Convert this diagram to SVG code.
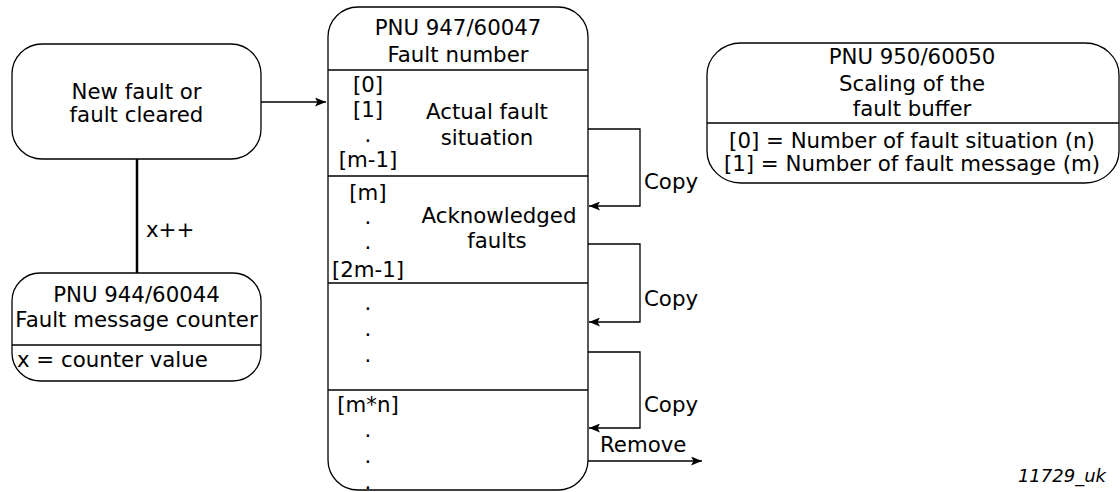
<svg xmlns="http://www.w3.org/2000/svg" width="1120" height="492" viewBox="0 0 1120 492">
<defs>
<marker id="ah" markerWidth="11" markerHeight="9" refX="11" refY="4.5" orient="auto" markerUnits="userSpaceOnUse">
<path d="M0,0 L11,4.5 L0,9 L2.5,4.5 Z" fill="#000"/>
</marker>
<style>
text{font-family:"DejaVu Sans",Verdana,sans-serif;font-size:21.3px;fill:#000}
.c{text-anchor:middle}
.box{fill:#fff;stroke:#000;stroke-width:1.3}
.ln{fill:none;stroke:#000;stroke-width:1.3}
.cn{fill:none;stroke:#000;stroke-width:1.3}
</style>
</defs>
<rect width="1120" height="492" fill="#fff"/>
<g id="new-fault">
<rect class="box" x="12" y="44" width="249" height="115" rx="30" ry="30"/>
<text class="c" x="136.5" y="99">New fault or</text>
<text class="c" x="136.5" y="122">fault cleared</text>
</g>
<g id="counter">
<rect class="box" x="12" y="273" width="249" height="108" rx="28" ry="28"/>
<line class="ln" x1="12" y1="345" x2="261" y2="345"/>
<text class="c" x="136.5" y="302">PNU 944/60044</text>
<text class="c" x="136.5" y="327">Fault message counter</text>
<text x="17" y="367">x = counter value</text>
</g>
<g id="fault-number">
<rect class="box" x="328" y="7" width="260" height="483" rx="30" ry="30"/>
<line class="ln" x1="328" y1="70" x2="588" y2="70"/>
<line class="ln" x1="328" y1="176" x2="588" y2="176"/>
<line class="ln" x1="328" y1="283" x2="588" y2="283"/>
<line class="ln" x1="328" y1="390" x2="588" y2="390"/>
<text class="c" x="458" y="35">PNU 947/60047</text>
<text class="c" x="458" y="62">Fault number</text>
<text class="c" x="368" y="92">[0]</text>
<text class="c" x="368" y="117">[1]</text>
<text class="c" x="368" y="142">.</text>
<text class="c" x="368" y="167">[m-1]</text>
<text class="c" x="487" y="119">Actual fault</text>
<text class="c" x="487" y="145">situation</text>
<text class="c" x="368" y="200">[m]</text>
<text class="c" x="368" y="224">.</text>
<text class="c" x="368" y="249">.</text>
<text class="c" x="368" y="277">[2m-1]</text>
<text class="c" x="499" y="223">Acknowledged</text>
<text class="c" x="497" y="248">faults</text>
<text class="c" x="368" y="310">.</text>
<text class="c" x="368" y="336">.</text>
<text class="c" x="368" y="362">.</text>
<text class="c" x="368" y="412">[m*n]</text>
<text class="c" x="368" y="437">.</text>
<text class="c" x="368" y="463">.</text>
<text class="c" x="368" y="489">.</text>
</g>
<g id="scaling">
<rect class="box" x="707" y="43" width="412" height="140" rx="34" ry="32"/>
<line class="ln" x1="707" y1="123" x2="1119" y2="123"/>
<text class="c" x="912" y="64">PNU 950/60050</text>
<text class="c" x="912" y="91">Scaling of the</text>
<text class="c" x="912" y="116">fault buffer</text>
<text class="c" x="912" y="148">[0] = Number of fault situation (n)</text>
<text class="c" x="912" y="171">[1] = Number of fault message (m)</text>
</g>
<g id="connectors">
<line class="cn" x1="261" y1="102" x2="326" y2="102" marker-end="url(#ah)"/>
<line x1="137" y1="159" x2="137" y2="273" stroke="#000" stroke-width="2.5"/>
<text x="146" y="237">x++</text>
<polyline class="cn" points="588,129 640,129 640,206 589,206" marker-end="url(#ah)"/>
<text x="644" y="189">Copy</text>
<polyline class="cn" points="588,244 640,244 640,322 589,322" marker-end="url(#ah)"/>
<text x="644" y="306">Copy</text>
<polyline class="cn" points="588,352 640,352 640,428 589,428" marker-end="url(#ah)"/>
<text x="644" y="412">Copy</text>
<line class="cn" x1="588" y1="461" x2="702" y2="461" marker-end="url(#ah)"/>
<text x="600" y="452">Remove</text>
</g>
<text x="1106" y="482" style="font-style:italic;text-anchor:end;font-size:18px">11729_uk</text>
</svg>
